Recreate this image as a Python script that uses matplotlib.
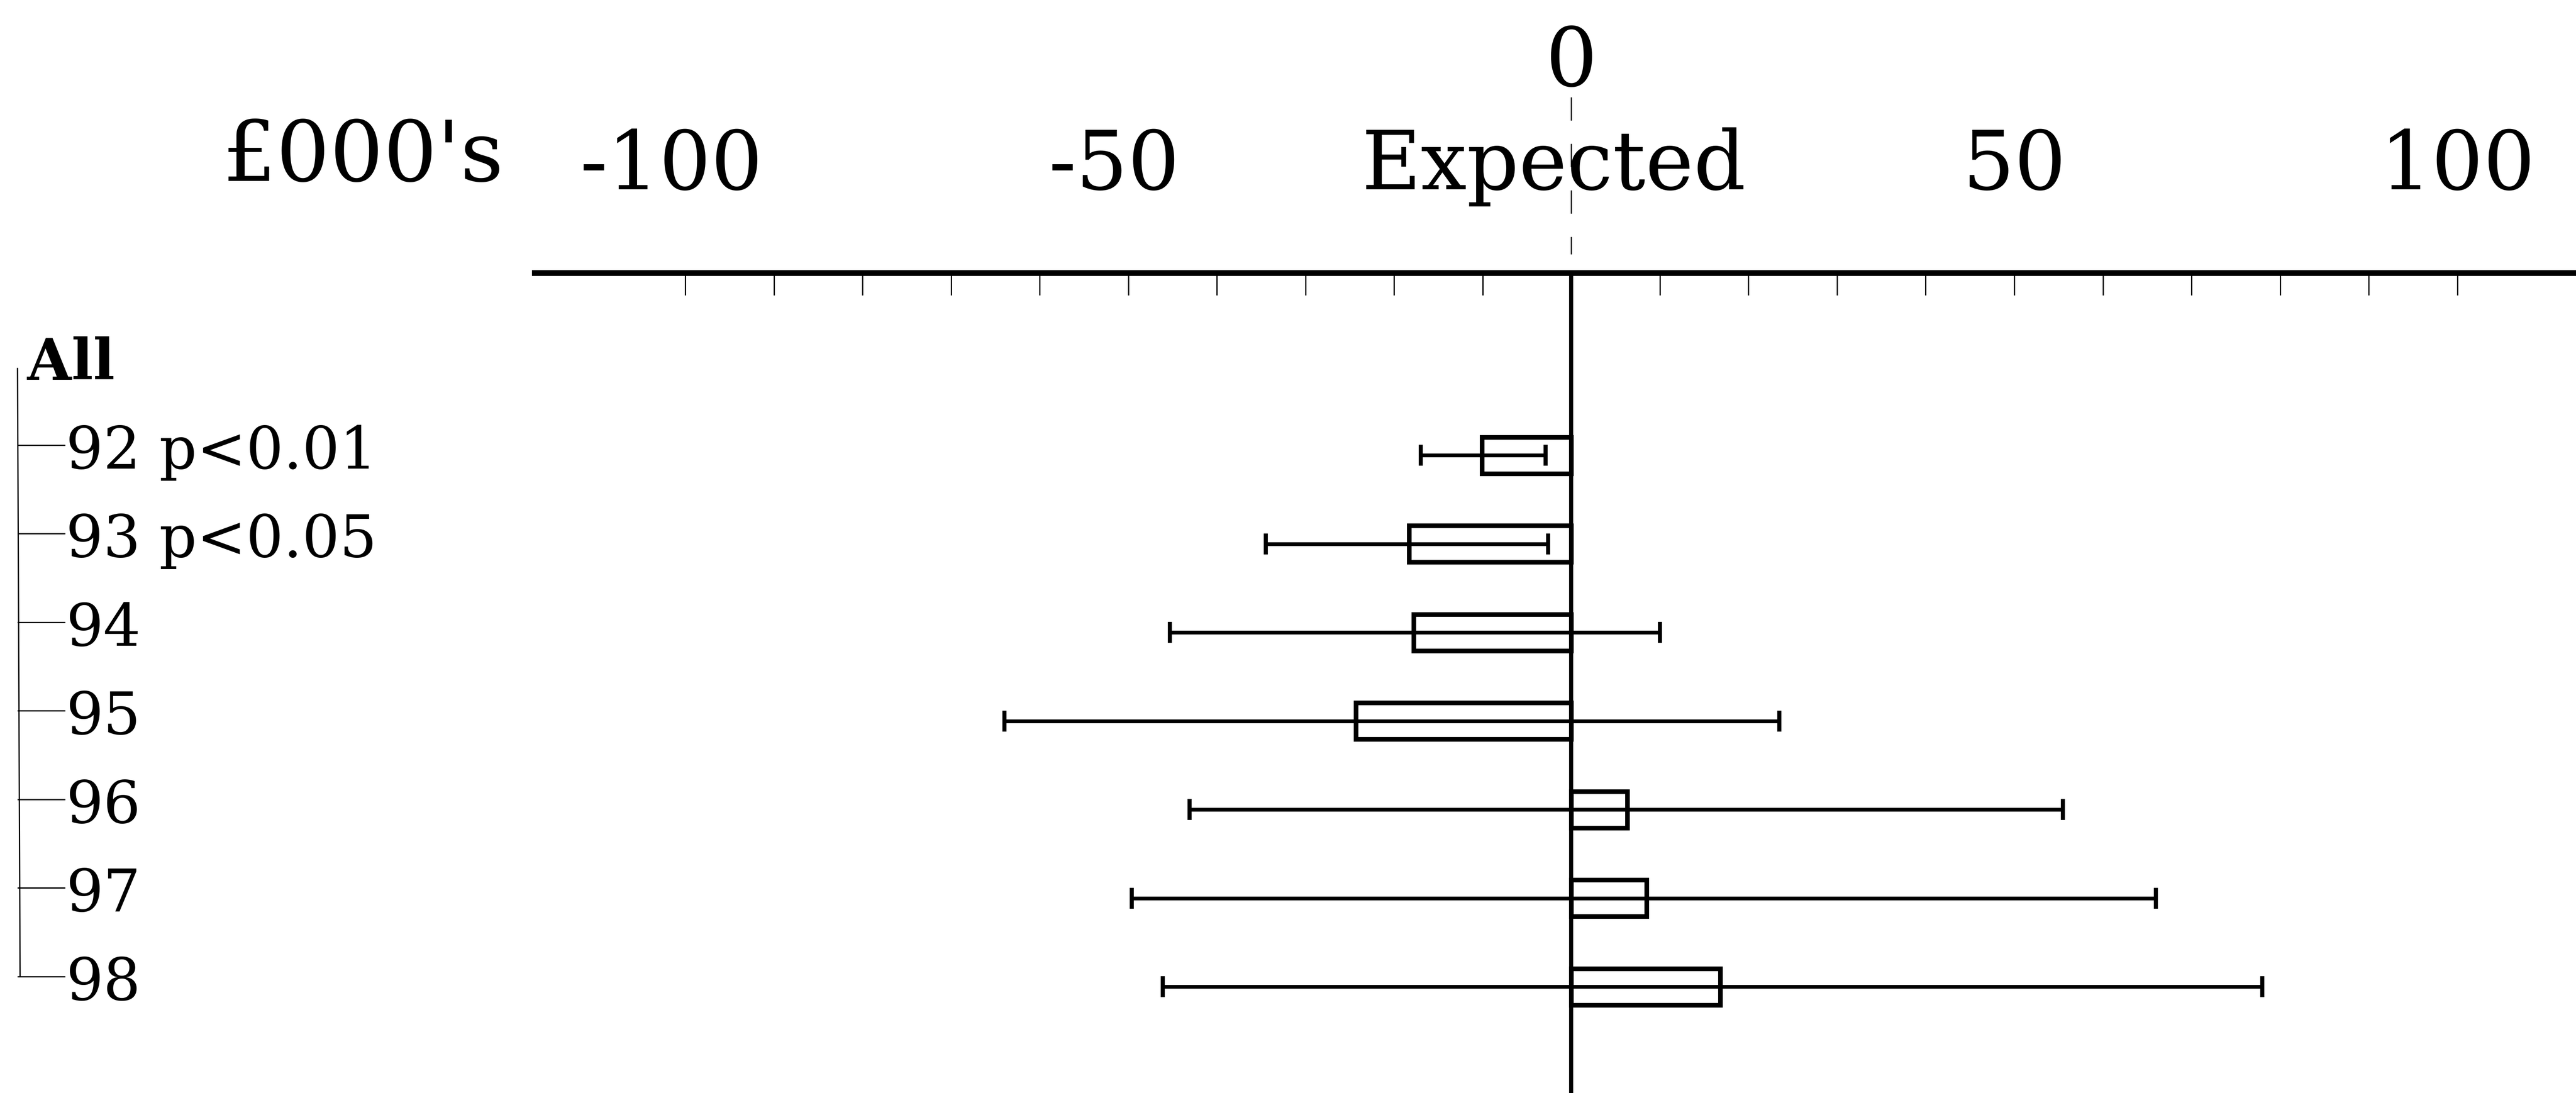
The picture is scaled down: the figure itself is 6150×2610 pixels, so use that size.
#!/usr/bin/env python3
# forest-style bar chart: difference from expected (in £000's) by year
import numpy as np
import matplotlib

matplotlib.use("Agg")
import matplotlib.pyplot as plt
from matplotlib import transforms

# ------------------------------------------------------------------------------
# data
years = ["92 p<0.01", "93 p<0.05", "94", "95", "96", "97", "98"]
values = [-10.1, -18.3, -17.8, -24.3, 6.3, 8.5, 16.8]
err_low = [-17.0, -34.5, -45.3, -64.0, -43.1, -49.6, -46.1]
err_high = [-2.9, -2.6, 10.0, 23.5, 55.5, 66.0, 78.0]

tick_values = [-100, -50, 0, 50, 100]
tick_labels = ["-100", "-50", "Expected", "50", "100"]
minor_ticks = [-100, -90, -80, -70, -60, -50, -40, -30, -20, -10, 0,
               10, 20, 30, 40, 50, 60, 70, 80, 90, 100]
unit_label = "£000's"
root_label = "All"

# ------------------------------------------------------------------------------
plt.rcParams["font.family"] = ["DejaVu Serif"]

fig = plt.figure(figsize=(61.5, 26.1), dpi=100)
ax = fig.add_axes([0.2076, 0.0, 0.7924, 1 - 166 / 665])
ax.set_xlim(-117.0, 113.4)
ax.set_ylim(7.20, -2.06)

ypos = np.arange(len(years))
vals = np.array(values)
lo = vals - np.array(err_low)
hi = np.array(err_high) - vals

# bars and error bars
ax.barh(ypos, vals, left=0, height=0.41, facecolor="white",
        edgecolor="black", linewidth=8, zorder=2)
ax.errorbar(vals, ypos, xerr=[lo, hi], fmt="none", ecolor="black",
            elinewidth=6.5, capsize=18, capthick=7, zorder=3)
ax.axvline(0, color="black", linewidth=7, zorder=4)

# top axis line with ticks pointing down
for s in ["bottom", "left", "right"]:
    ax.spines[s].set_visible(False)
ax.spines["top"].set_linewidth(10)
ax.xaxis.tick_top()
ax.set_xticks(minor_ticks)
ax.set_xticklabels([])
ax.set_yticks([])
ax.tick_params(axis="x", direction="in", length=38, width=2.2,
               top=True, bottom=False, labeltop=False)

# tick labels placed by hand above the line
xtr = ax.get_xaxis_transform()
for v, lab in zip(tick_values, tick_labels):
    dx = 0
    if lab.startswith("-"):
        dx = -24
    if lab == "Expected":
        dx = -30
    tr = transforms.offset_copy(xtr, fig=fig, x=dx, y=0, units="points")
    ax.text(v, 1.102, lab, transform=tr, ha="center", va="baseline",
            fontsize=140)
ax.text(0, 1.228, "0", transform=xtr, ha="center", va="baseline",
        fontsize=140)
ax.text(-120.5, 1.112, unit_label, transform=xtr, ha="right",
        va="baseline", fontsize=145)
ax.plot([0, 0], [1.214, 1.0225], transform=xtr, color="black", lw=2,
        linestyle=(0, (20, 20)), clip_on=False)

# category tree on the left
btr = transforms.blended_transform_factory(fig.transFigure, ax.transData)
ax.text(0.0106, -1 + 0.15, root_label, transform=btr, ha="left",
        va="baseline", fontsize=98, fontweight="bold")
for i, lab in enumerate(years):
    ax.text(0.0255, i + 0.15, lab, transform=btr, ha="left",
            va="baseline", fontsize=101)
    ax.plot([0.0070, 0.0250], [i - 0.115, i - 0.115], transform=btr,
            color="black", lw=2.2, clip_on=False)
ax.plot([0.0068, 0.0078], [-0.98, len(years) - 1 - 0.115], transform=btr,
        color="black", lw=2.2, clip_on=False)

fig.savefig("out.png", dpi=100, facecolor="white")
plt.close(fig)
